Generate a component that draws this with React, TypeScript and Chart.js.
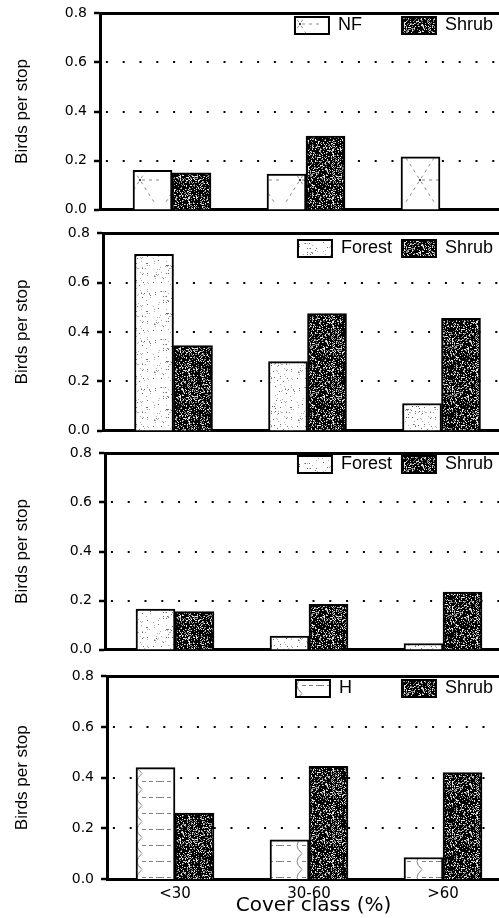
import React, { useEffect, useLayoutEffect, useRef } from "react";
import { Chart, registerables } from "chart.js";

Chart.register(...registerables);

// ---------------- data ----------------
const categories = ["<30", "30-60", ">60"];
const yTickLabels = ["0.0", "0.2", "0.4", "0.6", "0.8"];
const yTitle = "Birds per stop";
const xTitle = "Cover class (%)";

const panel1Series = ["NF", "Shrub"];
const panel1NF = [0.16, 0.145, 0.215];
const panel1Shrub = [0.15, 0.3, 0];

const panel2Series = ["Forest", "Shrub"];
const panel2Forest = [0.715, 0.28, 0.11];
const panel2Shrub = [0.345, 0.475, 0.455];

const panel3Series = ["Forest", "Shrub"];
const panel3Forest = [0.165, 0.055, 0.025];
const panel3Shrub = [0.155, 0.185, 0.235];

const panel4Series = ["H", "Shrub"];
const panel4H = [0.44, 0.155, 0.085];
const panel4Shrub = [0.26, 0.445, 0.42];

// ---------------- layout / style ----------------
const CANVAS_W = 520;
const PX_PER_CAT = 134;
const BAR_W = 39;
const PAD_TOP = 14;
const PAD_BOTTOM = 10;
const PAGE_W = 499;
const PAGE_H = 918;
const LEGEND_RIGHT = 503;
const SANS = "'Liberation Sans', Arial, Helvetica, sans-serif";
const WIDE = "'DejaVu Sans', Verdana, sans-serif";

const panels = [
  { series: panel1Series, values: [panel1NF, panel1Shrub], fills: ["nf", "shrub"], axisX: 100, firstCenter: 172, top: 12, bottom: 215, legendDy: 3, showX: false },
  { series: panel2Series, values: [panel2Forest, panel2Shrub], fills: ["forest", "shrub"], axisX: 103, firstCenter: 173.5, top: 232, bottom: 436, legendDy: 6, showX: false },
  { series: panel3Series, values: [panel3Forest, panel3Shrub], fills: ["forest", "shrub"], axisX: 105, firstCenter: 175, top: 452, bottom: 655, legendDy: 2, showX: false },
  { series: panel4Series, values: [panel4H, panel4Shrub], fills: ["h", "shrub"], axisX: 107, firstCenter: 175, top: 675, bottom: 879, legendDy: 3, showX: true },
];

// deterministic texture noise (for fill patterns only)
function noise(x: number, y: number, s: number) {
  let h = Math.imul(x + 1, 374761393) ^ Math.imul(y + 7, 668265263) ^ Math.imul(s + 3, 1274126177);
  h = Math.imul(h ^ (h >>> 13), 1274126177);
  h ^= h >>> 16;
  return (h >>> 0) / 4294967296;
}

function makeTile(kind: string): HTMLCanvasElement {
  const c = document.createElement("canvas");
  if (kind === "shrub") {
    c.width = 48; c.height = 48;
    const g = c.getContext("2d")!;
    g.fillStyle = "#000";
    g.fillRect(0, 0, 48, 48);
    for (let y = 0; y < 48; y++) {
      for (let x = 0; x < 48; x++) {
        const r = noise(x, y, 1);
        if (r < 0.3) {
          g.fillStyle = r < 0.13 ? "#e8e8e8" : "#8e8e8e";
          g.fillRect(x, y, 1, 1);
        }
      }
    }
  } else if (kind === "forest") {
    c.width = 48; c.height = 48;
    const g = c.getContext("2d")!;
    g.fillStyle = "#fff";
    g.fillRect(0, 0, 48, 48);
    for (let y = 0; y < 48; y++) {
      for (let x = 0; x < 48; x++) {
        const r = noise(x, y, 2);
        if (r < 0.06) {
          g.fillStyle = r < 0.025 ? "#6e6e6e" : "#b0b0b0";
          g.fillRect(x, y, 1, 1);
        }
      }
    }
  } else if (kind === "nf") {
    c.width = 40; c.height = 52;
    const g = c.getContext("2d")!;
    g.fillStyle = "#fff";
    g.fillRect(0, 0, 40, 52);
    g.strokeStyle = "#8a8a8a";
    g.lineWidth = 1;
    g.setLineDash([3, 4]);
    g.beginPath();
    g.moveTo(6, 4); g.lineTo(34, 48);
    g.moveTo(34, 4); g.lineTo(6, 48);
    g.moveTo(22, 26); g.lineTo(40, 26);
    g.stroke();
    g.fillStyle = "#444";
    g.fillRect(19, 25, 2, 2);
  } else {
    c.width = 40; c.height = 16;
    const g = c.getContext("2d")!;
    g.fillStyle = "#fff";
    g.fillRect(0, 0, 40, 16);
    g.strokeStyle = "#808080";
    g.lineWidth = 1;
    g.setLineDash([4, 3]);
    g.beginPath();
    g.moveTo(0, 8.5); g.lineTo(14, 8.5);
    g.moveTo(22, 8.5); g.lineTo(40, 8.5);
    g.stroke();
    g.setLineDash([]);
    g.beginPath();
    g.moveTo(22, 0.5);
    g.quadraticCurveTo(12, 8.5, 22, 16.5);
    g.stroke();
  }
  return c;
}

const legendInside = {
  id: "legendInside",
  beforeLayout(chart: any) {
    const lg = chart.legend;
    if (lg && !lg.__patched) {
      const orig = lg.fit.bind(lg);
      lg.fit = function () {
        orig();
        this.__h = this.height;
        this.height = 0;
      };
      lg.__patched = true;
    }
  },
  afterLayout(chart: any, _args: any, opts: any) {
    const lg = chart.legend;
    if (!lg) return;
    const pad = lg.options.labels.padding;
    lg.top = chart.chartArea.top + opts.dy - pad;
    lg.bottom = lg.top + (lg.__h || 40);
    lg.left = 0;
    lg.right = opts.right;
  },
};

const categoryTicks = (s: any) => {
  s.ticks = categories.map((_c, i) => ({ value: i }));
};

function Panel({ cfg }: { cfg: any }) {
  const ref = useRef<HTMLCanvasElement>(null);
  const canvasTop = cfg.top - PAD_TOP;
  const bottomSpace = cfg.showX ? PAGE_H - cfg.bottom : PAD_BOTTOM;
  const canvasH = PAD_TOP + (cfg.bottom - cfg.top) + bottomSpace;
  const xMin = -(cfg.firstCenter - cfg.axisX) / PX_PER_CAT;
  const xMax = xMin + (CANVAS_W - cfg.axisX) / PX_PER_CAT;

  useEffect(() => {
    const canvas = ref.current!;
    const ctx = canvas.getContext("2d")!;
    const fills = cfg.fills.map((k: string) => ctx.createPattern(makeTile(k), "repeat"));

    const measure = document.createElement("canvas").getContext("2d")!;
    measure.font = `18px ${SANS}`;
    const target = measure.measureText(panel2Series[0]).width;
    const spaceW = measure.measureText(" ").width;

    const datasets = cfg.series.map((name: string, si: number) => ({
      label: name,
      data: cfg.values[si].map((v: number, i: number) => ({ x: i, y: v })),
      backgroundColor: fills[si],
      borderColor: "#000",
      borderWidth: 2,
      barThickness: BAR_W,
    }));

    const chart = new Chart(canvas, {
      type: "bar",
      data: { datasets },
      plugins: [legendInside],
      options: {
        animation: false,
        responsive: false,
        maintainAspectRatio: false,
        devicePixelRatio: 1,
        layout: { padding: { top: PAD_TOP, bottom: cfg.showX ? 0 : PAD_BOTTOM, left: 0, right: 0 } },
        plugins: {
          tooltip: { enabled: false },
          legend: {
            display: true,
            position: "top",
            align: "end",
            labels: {
              boxWidth: 34,
              boxHeight: 17,
              padding: 10,
              color: "#000",
              font: { family: SANS, size: 18 },
              generateLabels: (ch: any) => {
                const items = (Chart.defaults.plugins.legend.labels as any).generateLabels(ch);
                items.forEach((it: any, i: number) => {
                  if (i === 0) {
                    const w = measure.measureText(it.text).width;
                    const n = Math.max(0, Math.ceil((target - w) / spaceW - 0.05));
                    it.text = it.text + " ".repeat(n);
                  }
                  it.lineWidth = 2;
                  it.strokeStyle = "#000";
                });
                return items;
              },
            },
          },
          legendInside: { dy: cfg.legendDy, right: LEGEND_RIGHT },
        } as any,
        scales: {
          x: {
            type: "linear",
            position: "bottom",
            min: xMin,
            max: xMax,
            offset: false,
            bounds: "data",
            z: 1,
            afterBuildTicks: categoryTicks,
            afterFit: (s: any) => { s.height = cfg.showX ? PAGE_H - cfg.bottom : 0; },
            grid: { display: true, offset: false, drawOnChartArea: false, drawTicks: false },
            border: { display: true, color: "#000", width: 3 },
            ticks: {
              display: cfg.showX,
              autoSkip: false,
              maxRotation: 0,
              padding: 6,
              color: "#000",
              font: { family: WIDE, size: 15 },
              callback: (v: any) => (categories[Math.round(v as number)] ?? ""),
            },
            title: {
              display: cfg.showX,
              text: xTitle,
              color: "#000",
              font: { family: WIDE, size: 20 },
              padding: { top: 0, bottom: 0 },
            },
          },
          x2: {
            type: "linear",
            position: "top",
            min: xMin,
            max: xMax,
            offset: false,
            bounds: "data",
            z: 1,
            afterBuildTicks: categoryTicks,
            afterFit: (s: any) => { s.height = 0; },
            grid: { display: true, offset: false, drawOnChartArea: false, drawTicks: false },
            border: { display: true, color: "#000", width: 3 },
            ticks: { display: false },
          },
          y: {
            type: "linear",
            position: "left",
            min: 0,
            max: 0.8,
            afterFit: (s: any) => { s.width = cfg.axisX; },
            grid: {
              color: "#000",
              lineWidth: (c: any) => (c.index === 0 || c.index === 4 ? 0 : 2),
              drawTicks: true,
              tickLength: 6,
              tickWidth: 2.5,
              tickColor: "#000",
            },
            border: { display: true, color: "#000", width: 3, dash: [2, 14.8], dashOffset: 12.9 },
            ticks: {
              stepSize: 0.2,
              color: "#000",
              padding: 7,
              font: { family: WIDE, size: 14 },
              callback: (_v: any, i: number) => yTickLabels[i],
            },
            title: {
              display: true,
              text: yTitle,
              color: "#000",
              font: { family: SANS, size: 17 },
              padding: { top: 12, bottom: 0 },
            },
          },
        } as any,
      },
    } as any);
    return () => chart.destroy();
  }, []);

  return (
    <canvas
      ref={ref}
      width={CANVAS_W}
      height={canvasH}
      style={{ position: "absolute", left: 0, top: canvasTop, width: CANVAS_W, height: canvasH, display: "block" }}
    />
  );
}

export default function App() {
  useLayoutEffect(() => {
    document.body.style.margin = "0";
  }, []);
  return (
    <div style={{ position: "relative", width: PAGE_W, height: PAGE_H, overflow: "hidden", background: "#fff" }}>
      {panels.map((p, i) => (
        <Panel key={i} cfg={p} />
      ))}
    </div>
  );
}
